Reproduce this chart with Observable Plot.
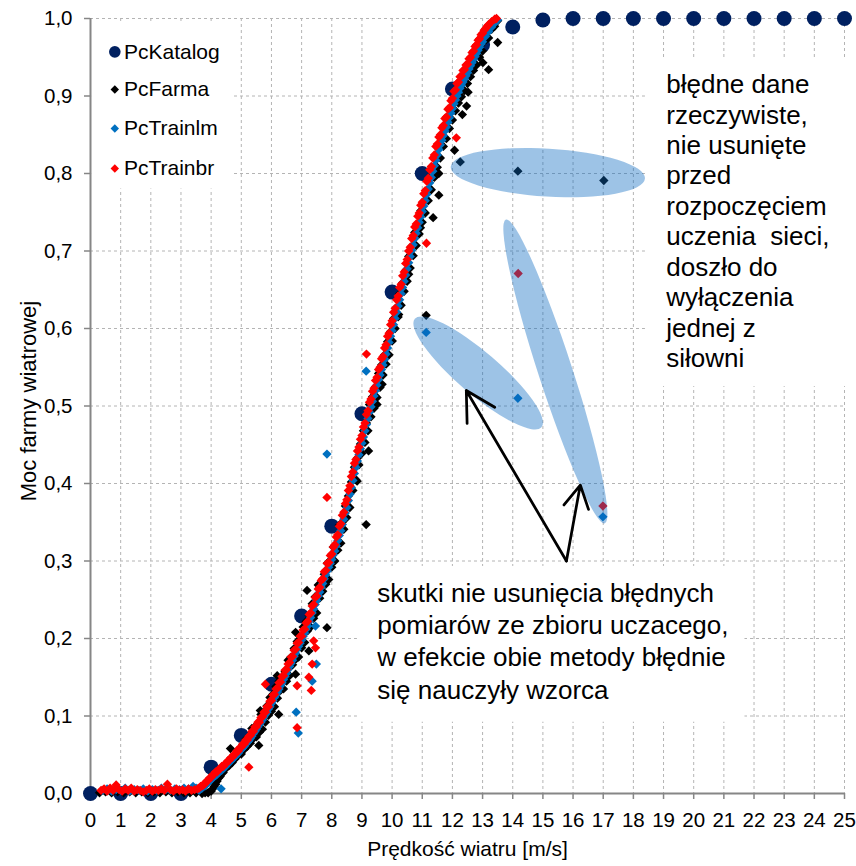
<!DOCTYPE html>
<html><head><meta charset="utf-8">
<script src="https://cdn.jsdelivr.net/npm/d3@7"></script>
<script src="https://cdn.jsdelivr.net/npm/@observablehq/plot@0.6"></script>
<style>body{margin:0;background:#fff;}</style>
</head><body><div id="chart"></div>
<script>
// ---------- DATA ----------
const seriesNames = ["PcKatalog", "PcFarma", "PcTrainlm", "PcTrainbr"];
const seriesColors = ["#002060", "#000000", "#0070C0", "#FF0000"];
const xTicks = d3.range(0, 26);
const yTicks = [0, 0.1, 0.2, 0.3, 0.4, 0.5, 0.6, 0.7, 0.8, 0.9, 1.0];

const katalogSpeed = [0,1,2,3,4,5,6,7,8,9,10,11,12,13,14,15,16,17,18,19,20,21,22,23,24,25];
const katalogPower = [0,0,0,0,0.034,0.075,0.141,0.229,0.345,0.49,0.647,0.80,0.909,0.966,0.989,0.998,1,1,1,1,1,1,1,1,1,1];

const pcFarma = [
[0.3,.001],[0.5,.002],[0.7,.001],[0.9,.002],[1.1,.001],[1.3,.002],[1.5,.001],[1.7,.002],[1.9,.001],[2.1,.002],[2.3,.001],[2.5,.002],[2.7,.001],[2.9,.002],[3.1,.001],[3.3,.001],[3.5,.001],[3.7,.000],[3.8,.001],[3.9,.001],[4.0,.003],[4.05,.006],
[4.1,.009],[4.15,.012],[4.2,.016],[4.25,.020],[4.3,.022],[4.35,.026],[4.4,.027],[4.45,.031],[4.5,.033],[4.55,.036],[4.6,.036],[4.65,.043],[4.7,.040],[4.75,.048],[4.8,.045],[4.85,.052],[4.9,.050],[4.95,.057],
[5.0,.051],[5.05,.063],[5.1,.057],[5.15,.070],[5.2,.061],[5.25,.072],[5.3,.065],[5.35,.084],[5.4,.071],[5.45,.086],[5.5,.073],[5.55,.090],[5.6,.079],[5.65,.102],[5.7,.083],[5.75,.105],[5.8,.092],[5.85,.113],[5.9,.101],[5.95,.124],
[6.0,.106],[6.05,.128],[6.1,.112],[6.15,.138],[6.2,.123],[6.25,.145],[6.3,.133],[6.35,.149],[6.4,.135],[6.45,.157],[6.5,.145],[6.55,.172],[6.6,.152],[6.65,.176],[6.7,.166],[6.75,.187],[6.8,.173],[6.85,.196],[6.9,.176],[6.95,.200],
[7.0,.188],[7.05,.215],[7.1,.195],[7.15,.222],[7.2,.210],[7.25,.230],[7.3,.215],[7.35,.245],[7.4,.226],[7.45,.254],[7.5,.233],[7.55,.269],[7.6,.252],[7.65,.272],[7.7,.261],[7.75,.283],[7.8,.270],[7.85,.297],[7.9,.276],[7.95,.301],
[8.0,.292],[8.05,.318],[8.1,.300],[8.15,.322],[8.2,.314],[8.25,.346],[8.3,.323],[8.35,.350],[8.4,.341],[8.45,.371],[8.5,.356],[8.55,.384],[8.6,.369],[8.65,.402],[8.7,.391],[8.75,.421],[8.8,.405],[8.85,.433],[8.9,.424],[8.95,.451],
[9.0,.439],[9.05,.468],[9.1,.453],[9.15,.478],[9.2,.468],[9.25,.502],[9.3,.486],[9.35,.512],[9.4,.497],[9.45,.525],[9.5,.511],[9.55,.542],[9.6,.524],[9.65,.553],[9.7,.540],[9.75,.566],[9.8,.554],[9.85,.583],[9.9,.566],[9.95,.596],
[10.0,.584],[10.05,.613],[10.1,.600],[10.15,.627],[10.2,.615],[10.25,.645],[10.3,.630],[10.35,.659],[10.4,.648],[10.45,.675],[10.5,.661],[10.55,.693],[10.6,.678],[10.65,.706],[10.7,.694],[10.75,.724],[10.8,.707],[10.85,.735],[10.9,.722],[10.95,.752],
[11.0,.737],[11.05,.764],[11.1,.749],[11.15,.778],[11.2,.765],[11.25,.794],[11.3,.779],[11.35,.806],[11.4,.795],[11.45,.823],[11.5,.808],[11.55,.836],[11.6,.820],[11.65,.848],[11.7,.835],[11.75,.861],[11.8,.845],[11.85,.870],[11.9,.858],[11.95,.883],
[12.0,.869],[12.05,.895],[12.1,.881],[12.15,.904],[12.2,.891],[12.25,.913],[12.3,.899],[12.35,.922],[12.4,.907],[12.45,.929],[12.5,.916],[12.55,.938],[12.6,.925],[12.65,.946],[12.7,.933],[12.75,.954],[12.8,.940],[12.85,.961],[12.9,.950],[12.95,.966],
[13.0,.958],[13.1,.972],[13.2,.975],[13.3,.986],[13.4,.990],[13.5,.997],
[4.64,.058],[5.63,.107],[6.19,.152],[6.8,.208],[7.18,.262],[5.58,.062],[6.24,.102],[6.80,.154],[7.24,.184],[7.84,.214],[9.14,.347],[8.84,.403],[9.22,.442],[9.5,.502],[9.67,.528],[10.0,.584],[10.22,.618],[10.55,.67],[10.94,.73],[11.36,.743],[11.55,.772],[11.55,.80],[12.07,.83],[12.33,.876],[12.47,.887],[12.52,.905],[13.01,.943],[13.2,.934],[13.5,.969],
[12.26,.815],[14.17,.803],[17.02,.791],[11.13,.617]
];

const pcTrainlm = [
[0.4,.004],[0.55,.006],[0.7,.003],[0.85,.005],[1.0,.004],[1.15,.007],[1.3,.003],[1.45,.005],[1.6,.004],[1.75,.006],[1.9,.003],[2.05,.005],[2.2,.004],[2.35,.007],[2.5,.005],[2.65,.004],[2.8,.006],[2.95,.005],[3.1,.007],[3.25,.006],[3.4,.009],[3.5,.007],
[3.6,.004],[3.65,.006],[3.7,.007],[3.75,.009],[3.8,.010],[3.85,.012],[3.9,.014],[3.95,.016],[4.0,.018],[4.05,.020],[4.1,.022],[4.15,.023],[4.2,.025],[4.25,.027],[4.3,.029],[4.35,.030],[4.4,.032],[4.45,.034],[4.5,.036],[4.55,.038],[4.6,.040],[4.65,.042],[4.7,.044],[4.75,.046],[4.8,.048],[4.85,.050],[4.9,.052],[4.95,.055],
[5.0,.057],[5.05,.059],[5.1,.061],[5.15,.064],[5.2,.066],[5.25,.068],[5.3,.071],[5.35,.074],[5.4,.077],[5.45,.080],[5.5,.083],[5.55,.086],[5.6,.089],[5.65,.092],[5.7,.095],[5.75,.099],[5.8,.102],[5.85,.105],[5.9,.109],[5.95,.112],
[6.0,.116],[6.05,.120],[6.1,.124],[6.15,.127],[6.2,.131],[6.25,.135],[6.3,.139],[6.35,.143],[6.4,.147],[6.45,.151],[6.5,.155],[6.55,.160],[6.6,.164],[6.65,.168],[6.7,.172],[6.75,.177],[6.8,.181],[6.85,.186],[6.9,.190],[6.95,.194],
[7.0,.198],[7.05,.203],[7.1,.207],[7.15,.212],[7.2,.216],[7.25,.222],[7.3,.227],[7.35,.233],[7.4,.238],[7.45,.244],[7.5,.249],[7.55,.255],[7.6,.260],[7.65,.266],[7.7,.271],[7.75,.277],[7.8,.282],[7.85,.287],[7.9,.292],[7.95,.297],
[8.0,.302],[8.05,.308],[8.1,.313],[8.15,.320],[8.2,.326],[8.25,.333],[8.3,.339],[8.35,.347],[8.4,.354],[8.45,.362],[8.5,.369],[8.55,.378],[8.6,.386],[8.65,.395],[8.7,.404],[8.75,.413],[8.8,.421],[8.85,.429],[8.9,.437],[8.95,.445],
[9.0,.452],[9.05,.460],[9.1,.468],[9.15,.476],[9.2,.484],[9.25,.492],[9.3,.499],[9.35,.506],[9.4,.513],[9.45,.520],[9.5,.527],[9.55,.534],[9.6,.540],[9.65,.547],[9.7,.553],[9.75,.560],[9.8,.567],[9.85,.575],[9.9,.582],[9.95,.590],
[10.0,.597],[10.05,.605],[10.1,.613],[10.15,.621],[10.2,.629],[10.25,.637],[10.3,.645],[10.35,.653],[10.4,.661],[10.45,.669],[10.5,.677],[10.55,.685],[10.6,.693],[10.65,.701],[10.7,.708],[10.75,.716],[10.8,.723],[10.85,.730],[10.9,.737],[10.95,.744],
[11.0,.751],[11.05,.758],[11.1,.765],[11.15,.773],[11.2,.780],[11.25,.788],[11.3,.795],[11.35,.803],[11.4,.810],[11.45,.817],[11.5,.824],[11.55,.831],[11.6,.837],[11.65,.843],[11.7,.849],[11.75,.855],[11.8,.860],[11.85,.866],[11.9,.872],[11.95,.878],
[12.0,.884],[12.05,.890],[12.1,.895],[12.15,.900],[12.2,.905],[12.25,.910],[12.3,.914],[12.35,.918],[12.4,.922],[12.45,.926],[12.5,.930],[12.55,.935],[12.6,.939],[12.65,.943],[12.7,.947],[12.75,.951],[12.8,.955],[12.85,.959],[12.9,.963],[12.95,.967],
[13.0,.970],[13.1,.977],[13.2,.983],[13.3,.989],[13.4,.994],[13.5,.998],
[4.33,.006],[6.82,.105],[6.89,.078],[7.35,.145],[7.49,.167],[7.46,.216],[7.84,.438],[9.14,.545],
[11.13,.595],[14.17,.51],[16.99,.357]
];

const pcTrainbr = [
[0.35,.004],[0.45,.006],[0.55,.003],[0.65,.007],[0.75,.004],[0.85,.011],[0.95,.005],[1.05,.003],[1.15,.006],[1.25,.004],[1.35,.007],[1.45,.003],[1.55,.005],[1.65,.004],[1.75,.002],[1.85,.004],[1.95,.006],[2.05,.003],[2.15,.005],[2.25,.004],[2.35,.006],[2.45,.004],[2.55,.012],[2.65,.005],[2.75,.003],[2.85,.006],[2.95,.004],[3.05,.005],[3.15,.003],[3.25,.006],[3.35,.004],[3.45,.005],[3.55,.006],
[3.6,.007],[3.65,.009],[3.7,.010],[3.75,.011],[3.8,.013],[3.85,.016],[3.9,.017],[3.95,.020],[4.0,.021],[4.05,.024],[4.1,.025],[4.15,.028],[4.2,.028],[4.25,.031],[4.3,.032],[4.35,.035],[4.4,.035],[4.45,.038],[4.5,.039],[4.55,.042],[4.6,.043],[4.65,.046],[4.7,.047],[4.75,.050],[4.8,.051],[4.85,.055],[4.9,.055],[4.95,.059],
[5.0,.060],[5.05,.064],[5.1,.064],[5.15,.069],[5.2,.069],[5.25,.074],[5.3,.075],[5.35,.080],[5.4,.080],[5.45,.086],[5.5,.086],[5.55,.092],[5.6,.092],[5.65,.098],[5.7,.099],[5.75,.105],[5.8,.105],[5.85,.112],[5.9,.112],[5.95,.119],
[6.0,.120],[6.05,.127],[6.1,.128],[6.15,.135],[6.2,.136],[6.25,.143],[6.3,.144],[6.35,.151],[6.4,.152],[6.45,.159],[6.5,.160],[6.55,.167],[6.6,.169],[6.65,.176],[6.7,.177],[6.75,.185],[6.8,.186],[6.85,.194],[6.9,.195],[6.95,.203],
[7.0,.203],[7.05,.211],[7.1,.212],[7.15,.220],[7.2,.222],[7.25,.231],[7.3,.233],[7.35,.242],[7.4,.244],[7.45,.253],[7.5,.255],[7.55,.264],[7.6,.266],[7.65,.275],[7.7,.277],[7.75,.286],[7.8,.288],[7.85,.297],[7.9,.298],[7.95,.307],
[8.0,.309],[8.05,.318],[8.1,.321],[8.15,.331],[8.2,.334],[8.25,.345],[8.3,.348],[8.35,.359],[8.4,.363],[8.45,.374],[8.5,.379],[8.55,.391],[8.6,.397],[8.65,.409],[8.7,.415],[8.75,.426],[8.8,.431],[8.85,.442],[8.9,.447],[8.95,.457],
[9.0,.462],[9.05,.473],[9.1,.478],[9.15,.489],[9.2,.494],[9.25,.505],[9.3,.509],[9.35,.519],[9.4,.523],[9.45,.533],[9.5,.537],[9.55,.547],[9.6,.550],[9.65,.561],[9.7,.564],[9.75,.575],[9.8,.579],[9.85,.590],[9.9,.594],[9.95,.605],
[10.0,.610],[10.05,.621],[10.1,.626],[10.15,.637],[10.2,.642],[10.25,.653],[10.3,.657],[10.35,.668],[10.4,.673],[10.45,.684],[10.5,.689],[10.55,.700],[10.6,.705],[10.65,.716],[10.7,.720],[10.75,.731],[10.8,.735],[10.85,.745],[10.9,.749],[10.95,.759],
[11.0,.763],[11.05,.774],[11.1,.778],[11.15,.790],[11.2,.794],[11.25,.805],[11.3,.809],[11.35,.820],[11.4,.824],[11.45,.835],[11.5,.838],[11.55,.847],[11.6,.850],[11.65,.859],[11.7,.862],[11.75,.871],[11.8,.873],[11.85,.883],[11.9,.885],[11.95,.894],
[12.0,.897],[12.05,.906],[12.1,.908],[12.15,.916],[12.2,.918],[12.25,.925],[12.3,.926],[12.35,.933],[12.4,.934],[12.45,.940],[12.5,.941],[12.55,.948],[12.6,.950],[12.65,.956],[12.7,.958],[12.75,.964],[12.8,.966],[12.85,.972],[12.9,.974],[12.95,.979],
[13.0,.981],[13.05,.985],[13.1,.987],[13.15,.990],[13.2,.992],[13.3,.996],[13.4,.999],[13.46,1.0],
[5.25,.034],[5.8,.141],[6.85,.139],[7.32,.133],[7.46,.188],[7.40,.197],[6.85,.085],[7.24,.150],[7.35,.167],[7.84,.382],[9.15,.567],[11.14,.71],[12.13,.846],
[14.18,.671],[16.99,.371]
];

// annotation texts
const noteRight = "błędne dane\nrzeczywiste,\nnie usunięte\nprzed\nrozpoczęciem\nuczenia  sieci,\ndoszło do\nwyłączenia\njednej z\nsiłowni";
const noteBottom = "skutki nie usunięcia błędnych\npomiarów ze zbioru uczacego,\nw efekcie obie metody błędnie\nsię nauczyły wzorca";
const xTitle = "Prędkość wiatru [m/s]";
const yTitle = "Moc farmy wiatrowej";

// ---------- LAYOUT (annotation geometry in data units) ----------
const whiteBoxes = [
  {x1: 18.4, x2: 25.4, y1: 0.525, y2: 0.949},
  {x1: 8.85, x2: 21.7, y1: 0.092, y2: 0.293},
  {x1: 0.04, x2: 4.7, y1: 0.78, y2: 0.994}
];
const arrows = [
  {x1: 15.78, y1: 0.300, x2: 12.46, y2: 0.520},
  {x1: 15.78, y1: 0.300, x2: 16.24, y2: 0.398}
];
const ellipses = [
  {x1: 11.96, y1: 0.808, x2: 18.40, y2: 0.793, half: 24},
  {x1: 13.79, y1: 0.740, x2: 17.07, y2: 0.348, half: 17},
  {x1: 10.77, y1: 0.612, x2: 14.97, y2: 0.472, half: 21}
];
const legendY = [0.957, 0.9085, 0.8581, 0.8065];
const legendItems = seriesNames.map((name, i) => ({name, color: seriesColors[i], y: legendY[i], circle: i === 0}));

const katalog = katalogSpeed.map((s, i) => ({x: s, y: katalogPower[i]}));
const gridColor = "#b4b4b4";
const axisColor = "#868686";
const font = '"Liberation Sans", Arial, sans-serif';
const fmtY = d => d.toFixed(1).replace(".", ",");

const chart = Plot.plot({
  width: 856,
  height: 866,
  marginLeft: 90, marginRight: 12, marginTop: 18, marginBottom: 73,
  style: {fontFamily: font, fontSize: "20.5px", color: "#000", background: "#fff", overflow: "visible"},
  x: {domain: [0, 25], ticks: xTicks, tickFormat: d => String(d), tickSize: 6, tickPadding: 13, label: null},
  y: {domain: [0, 1], ticks: yTicks, tickFormat: fmtY, tickSize: 6, tickPadding: 12, label: null},
  marks: [
    Plot.ruleX(xTicks.filter(d => d > 0), {stroke: gridColor, strokeDasharray: "3,3", strokeWidth: 1}),
    Plot.ruleY(yTicks.filter(d => d > 0), {stroke: gridColor, strokeDasharray: "3,3", strokeWidth: 1}),
    Plot.rect(whiteBoxes, {x1: "x1", x2: "x2", y1: "y1", y2: "y2", fill: "#fff"}),
    Plot.ruleX([0], {stroke: axisColor, strokeWidth: 2}),
    Plot.ruleY([0], {stroke: axisColor, strokeWidth: 2}),
    Plot.dot(katalog, {x: "x", y: "y", r: 7.5, fill: seriesColors[0]}),
    Plot.dot(pcFarma, {x: d => d[0], y: d => d[1], symbol: "diamond2", r: 4.2, fill: seriesColors[1]}),
    Plot.dot(pcTrainlm, {x: d => d[0], y: d => d[1], symbol: "diamond2", r: 4.2, fill: seriesColors[2]}),
    Plot.dot(pcTrainbr, {x: d => d[0], y: d => d[1], symbol: "diamond2", r: 4.2, fill: seriesColors[3]}),
    Plot.arrow(arrows, {x1: "x1", y1: "y1", x2: "x2", y2: "y2", stroke: "#000", strokeWidth: 2.75, headLength: 18, headAngle: 58}),
    Plot.text([noteRight], {x: 19.09, y: 0.9315, text: d => d, textAnchor: "start", lineAnchor: "top", fontSize: 26, lineHeight: 1.17, fill: "#000"}),
    Plot.text([noteBottom], {x: 9.51, y: 0.2766, text: d => d, textAnchor: "start", lineAnchor: "top", fontSize: 26, lineHeight: 1.24, fill: "#000"}),
    Plot.dot(legendItems.filter(d => d.circle), {x: 0.806, y: "y", r: 5.8, fill: "color"}),
    Plot.dot(legendItems.filter(d => !d.circle), {x: 0.806, y: "y", symbol: "diamond2", r: 3.8, fill: "color"}),
    Plot.text(legendItems, {x: 1.11, y: "y", text: "name", textAnchor: "start", fontSize: 21, fill: "#000"}),
    Plot.text([xTitle], {frameAnchor: "bottom", dy: 62, text: d => d, textAnchor: "middle", fontSize: 21, fill: "#000"}),
    Plot.text([yTitle], {frameAnchor: "left", dx: -62, dy: -5, rotate: -90, text: d => d, textAnchor: "middle", fontSize: 22, fill: "#000"})
  ]
});

// axis tick colour
chart.querySelectorAll('g[aria-label="x-axis tick"], g[aria-label="y-axis tick"]').forEach(g => {
  g.setAttribute("stroke", axisColor); g.setAttribute("stroke-width", "1.5");
  g.querySelectorAll("path").forEach(p => p.setAttribute("stroke", axisColor));
});
chart.querySelectorAll('.tick line').forEach(l => { l.setAttribute("stroke", axisColor); l.setAttribute("stroke-width", "1.5"); });

// translucent annotation ellipses, positioned through Plot's own scales
const sx = chart.scale("x"), sy = chart.scale("y");
const fx = d3.scaleLinear(sx.domain, sx.range), fy = d3.scaleLinear(sy.domain, sy.range);
const ns = "http://www.w3.org/2000/svg";
const eg = document.createElementNS(ns, "g");
eg.setAttribute("aria-label", "ellipse");
for (const e of ellipses) {
  const ax = fx(e.x1), ay = fy(e.y1), bx = fx(e.x2), by = fy(e.y2);
  const cx = (ax + bx) / 2, cy = (ay + by) / 2;
  const rx = Math.hypot(bx - ax, by - ay) / 2;
  const ang = Math.atan2(by - ay, bx - ax) * 180 / Math.PI;
  const el = document.createElementNS(ns, "ellipse");
  el.setAttribute("cx", cx); el.setAttribute("cy", cy);
  el.setAttribute("rx", rx); el.setAttribute("ry", e.half);
  el.setAttribute("transform", `rotate(${ang} ${cx} ${cy})`);
  el.setAttribute("fill", "rgb(10,105,192)");
  el.setAttribute("fill-opacity", "0.4");
  eg.appendChild(el);
}
const arrowG = chart.querySelector('g[aria-label="arrow"]');
if (arrowG) chart.insertBefore(eg, arrowG); else chart.appendChild(eg);

document.getElementById("chart").appendChild(chart);
</script></body></html>
